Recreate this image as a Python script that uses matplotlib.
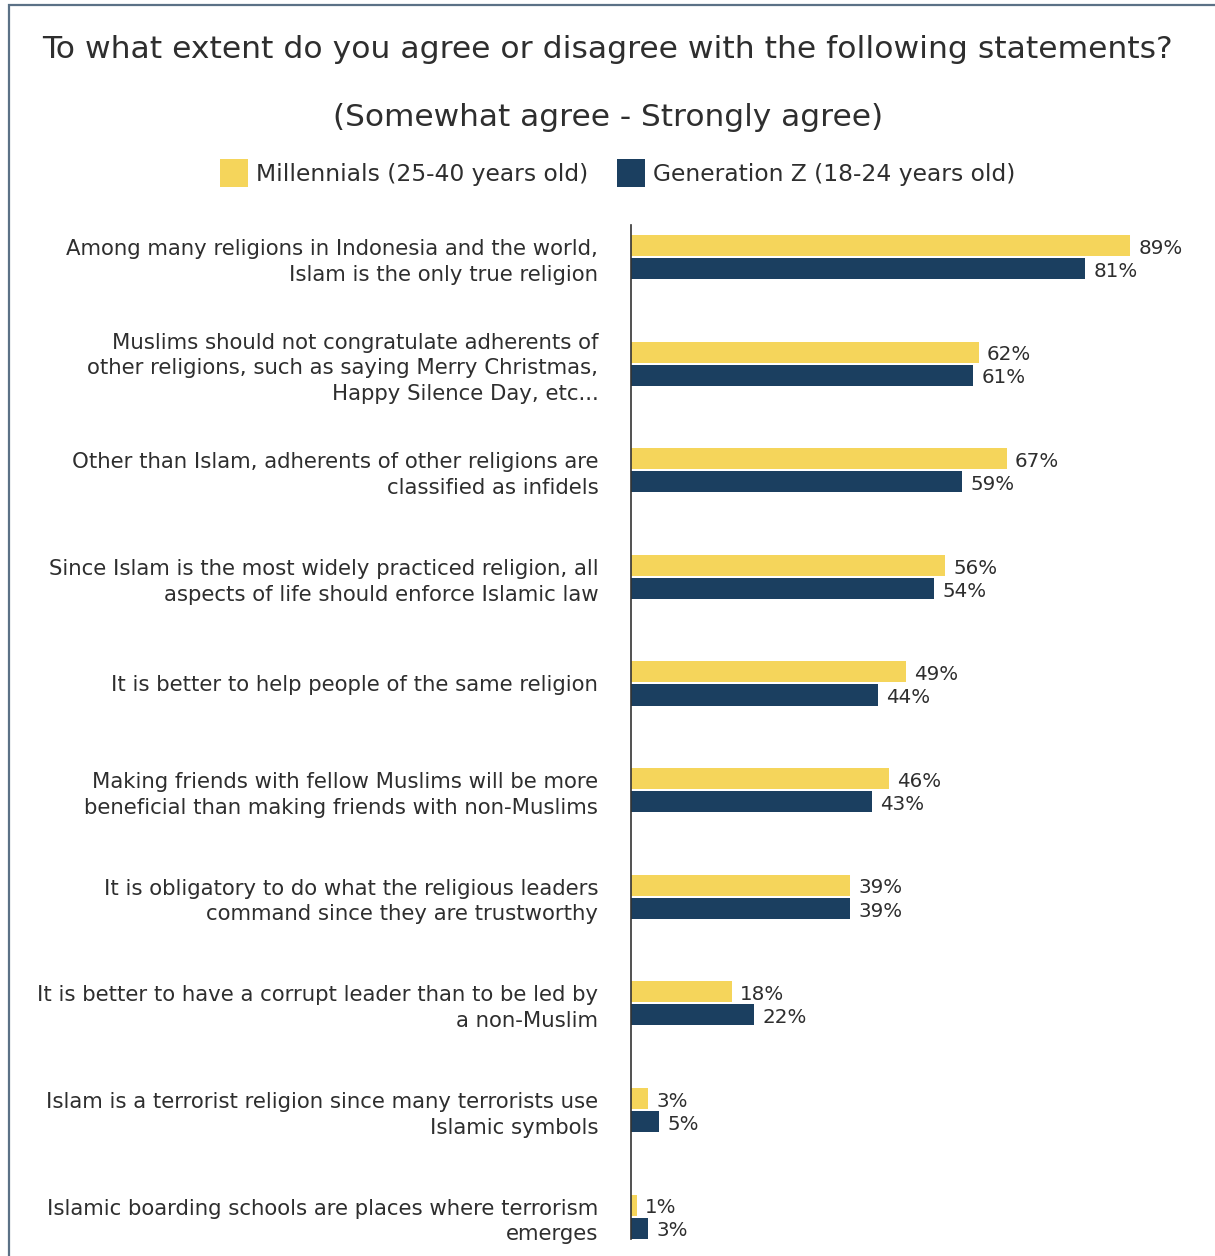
import matplotlib
matplotlib.use("Agg")
import matplotlib.pyplot as plt
from matplotlib.patches import Rectangle
import numpy as np

plt.rcParams["font.family"] = ["DejaVu Sans"]

categories = [
    "Among many religions in Indonesia and the world,\nIslam is the only true religion",
    "Muslims should not congratulate adherents of\nother religions, such as saying Merry Christmas,\nHappy Silence Day, etc...",
    "Other than Islam, adherents of other religions are\nclassified as infidels",
    "Since Islam is the most widely practiced religion, all\naspects of life should enforce Islamic law",
    "It is better to help people of the same religion",
    "Making friends with fellow Muslims will be more\nbeneficial than making friends with non-Muslims",
    "It is obligatory to do what the religious leaders\ncommand since they are trustworthy",
    "It is better to have a corrupt leader than to be led by\na non-Muslim",
    "Islam is a terrorist religion since many terrorists use\nIslamic symbols",
    "Islamic boarding schools are places where terrorism\nemerges",
]
millennials = [89, 62, 67, 56, 49, 46, 39, 18, 3, 1]
gen_z = [81, 61, 59, 54, 44, 43, 39, 22, 5, 3]
series_names = ["Millennials (25-40 years old)", "Generation Z (18-24 years old)"]

title = "To what extent do you agree or disagree with the following statements?"
subtitle = "(Somewhat agree - Strongly agree)"

YELLOW = "#F5D55B"
NAVY = "#1B3F60"
TEXT = "#2e2e2e"
FRAME = "#5b7186"

W, H = 1215, 1256
fig = plt.figure(figsize=(W / 100, H / 100), dpi=100)

# outer frame (extends past the right and bottom edges)
fig.patches.append(Rectangle((9 / W, -0.1), 1.2, 1 - 5 / H + 0.1,
                             transform=fig.transFigure, fill=False,
                             edgecolor=FRAME, linewidth=1.6))

fig.text(608 / W, 1 - 50 / H, title, ha="center", va="center",
         fontsize=22.6, color=TEXT)
fig.text(608 / W, 1 - 118 / H, subtitle, ha="center", va="center",
         fontsize=22.5, color=TEXT)

# legend drawn by hand: swatch + label pairs
sw = 28
for x0, name, col in [(220, series_names[0], YELLOW), (617, series_names[1], NAVY)]:
    fig.patches.append(Rectangle((x0 / W, 1 - 187 / H), sw / W, sw / H,
                                 transform=fig.transFigure, facecolor=col,
                                 edgecolor="none"))
    fig.text((x0 + sw + 8) / W, 1 - 174 / H, name, ha="left", va="center",
             fontsize=16.8, color=TEXT)

ax_left, ax_right = 631, 1191.7
ax_top, ax_bot = 225, 1239
ax = fig.add_axes([ax_left / W, 1 - ax_bot / H, (ax_right - ax_left) / W,
                   (ax_bot - ax_top) / H])

y = np.arange(len(categories))
bh = 0.197
off = 0.108
ax.barh(y - off, millennials, height=bh, color=YELLOW, zorder=2)
ax.barh(y + off, gen_z, height=bh, color=NAVY, zorder=2)

for yi, v in zip(y - off, millennials):
    ax.annotate(f"{v}%", (v, yi), xytext=(6, -2), textcoords="offset points",
                ha="left", va="center", fontsize=14.3, color=TEXT,
                annotation_clip=False)
for yi, v in zip(y + off, gen_z):
    ax.annotate(f"{v}%", (v, yi), xytext=(6, -2), textcoords="offset points",
                ha="left", va="center", fontsize=14.3, color=TEXT,
                annotation_clip=False)

ax.set_xlim(0, 100)
ax.set_ylim(len(categories) - 1 + 0.21, -0.30)
ax.set_yticks(y)
ax.set_yticklabels(categories, fontsize=15.3, color=TEXT, linespacing=1.36)
ax.tick_params(axis="y", length=0, pad=23.5)
ax.set_xticks([])
for s in ["top", "right", "bottom"]:
    ax.spines[s].set_visible(False)
ax.spines["left"].set_color("#333333")
ax.spines["left"].set_linewidth(1.2)
ax.set_facecolor("none")

fig.savefig("out.png", dpi=100)
